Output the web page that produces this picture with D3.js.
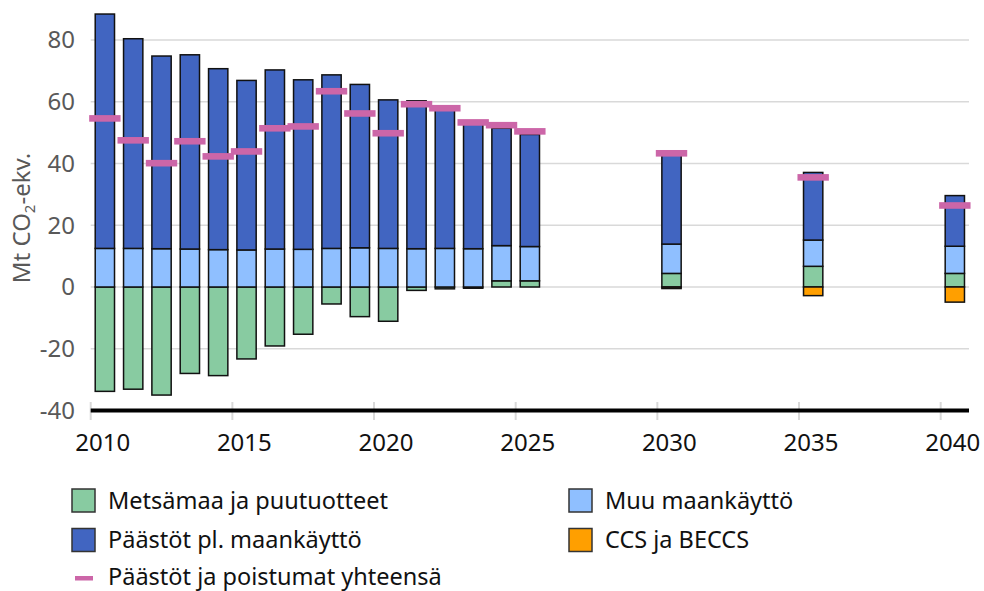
<!DOCTYPE html>
<html>
<head>
<meta charset="utf-8">
<script src="https://cdn.jsdelivr.net/npm/d3@7"></script>
<style>
    body { margin: 0; background: #fff; }
    svg { font-family: 'Noto Sans', 'Open Sans', sans-serif; }
    .grid line { stroke: #d9d9d9; stroke-width: 1.5; }
    .ylabel { fill: #595959; font-size: 24px; }
    .xlabel { fill: #111; font-size: 24px; }
    .legend text { fill: #111; font-size: 23.5px; }
</style>
</head>
<body>
<svg id="chart" width="984" height="591"></svg>
<script>
// data
const years = [2010, 2011, 2012, 2013, 2014, 2015, 2016, 2017, 2018, 2019, 2020,
    2021, 2022, 2023, 2024, 2025, 2030, 2035, 2040];
const metsamaa = [-33.8, -33.1, -35.0, -28.0, -28.7, -23.3, -19.1, -15.3, -5.5, -9.6, -11.1,
    -1.1, -0.6, -0.4, 2.0, 2.0, 4.4, 6.7, 4.4];
const muuMaankaytto = [12.5, 12.5, 12.4, 12.3, 12.1, 12.0, 12.3, 12.2, 12.5, 12.7, 12.5,
    12.4, 12.5, 12.4, 11.4, 11.1, 9.5, 8.5, 8.8];
const paastot = [75.9, 67.9, 62.4, 62.9, 58.6, 54.9, 58.0, 54.9, 56.2, 52.9, 48.1,
    47.9, 45.0, 40.4, 38.0, 36.3, 28.9, 21.9, 16.4];
const ccs = [0, 0, 0, 0, 0, 0, 0, 0, 0, 0, 0,
    0, 0, 0, 0, 0, -0.5, -2.8, -4.9];
const yhteensa = [54.6, 47.5, 40.1, 47.2, 42.3, 43.9, 51.4, 52.0, 63.4, 56.2, 49.8,
    59.2, 57.9, 53.3, 52.4, 50.4, 43.3, 35.5, 26.4];

const yTicks = [-40, -20, 0, 20, 40, 60, 80];
const xTicks = [2010, 2015, 2020, 2025, 2030, 2035, 2040];

const seriesKeys = ['metsamaa', 'muu', 'paastot', 'ccs'];
const seriesColors = ['#88cba1', '#8fbfff', '#4165c1', '#ff9f00'];
const legendItems = [
    {label: 'Metsämaa ja puutuotteet', color: '#88cba1', col: 0, row: 0},
    {label: 'Muu maankäyttö', color: '#8fbfff', col: 1, row: 0},
    {label: 'Päästöt pl. maankäyttö', color: '#4165c1', col: 0, row: 1},
    {label: 'CCS ja BECCS', color: '#ff9f00', col: 1, row: 1},
    {label: 'Päästöt ja poistumat yhteensä', color: '#cc66a8', col: 0, row: 2, line: true}
];

let table = years.map((yr, i) => ({
    year: yr,
    metsamaa: metsamaa[i],
    muu: muuMaankaytto[i],
    paastot: paastot[i],
    ccs: ccs[i],
    total: yhteensa[i]
}));

let svg = d3.select('#chart');

let x = d3.scaleLinear().domain([2010, 2041]).range([90.7, 969]);
let y = d3.scaleLinear().domain([-40, 90]).range([410.5, 9.1]);
let barWidth = 19.3;

// grid
svg.append('g')
    .classed('grid', true)
    .selectAll('line')
    .data(yTicks.filter(d => d > -40))
    .join('line')
    .attr('x1', x(2010))
    .attr('x2', x(2041))
    .attr('y1', d => y(d))
    .attr('y2', d => y(d));

// y labels
svg.append('g')
    .selectAll('text')
    .data(yTicks)
    .join('text')
    .classed('ylabel', true)
    .attr('x', 75)
    .attr('y', d => y(d))
    .attr('dy', '0.35em')
    .attr('text-anchor', 'end')
    .text(d => d);

// y title
let title = svg.append('text')
    .classed('ylabel', true)
    .attr('transform', 'translate(30,218) rotate(-90)')
    .attr('text-anchor', 'middle');
title.append('tspan').text('Mt CO');
title.append('tspan').attr('font-size', '15px').attr('dy', '5').text('2');
title.append('tspan').attr('dy', '-5').text('-ekv.');

// stacked bars
let stack = d3.stack()
    .keys(seriesKeys)
    .offset(d3.stackOffsetDiverging);

let stacked = stack(table);

svg.append('g')
    .selectAll('g')
    .data(stacked)
    .join('g')
    .attr('fill', (d, i) => seriesColors[i])
    .selectAll('rect')
    .data(d => d.filter(p => p[1] - p[0] !== 0))
    .join('rect')
    .attr('x', d => x(d.data.year + 0.5) - barWidth / 2)
    .attr('width', barWidth)
    .attr('y', d => y(Math.max(d[0], d[1])))
    .attr('height', d => Math.abs(y(d[0]) - y(d[1])))
    .attr('stroke', '#111')
    .attr('stroke-width', 1.5);

// total markers
svg.append('g')
    .selectAll('rect')
    .data(table)
    .join('rect')
    .attr('x', d => x(d.year + 0.5) - 15.7)
    .attr('width', 31.4)
    .attr('y', d => y(d.total) - 3.3)
    .attr('height', 6.6)
    .attr('fill', '#cc66a8');

// x axis
svg.append('g')
    .selectAll('line')
    .data(xTicks)
    .join('line')
    .attr('x1', d => x(d))
    .attr('x2', d => x(d))
    .attr('y1', 402)
    .attr('y2', 420)
    .attr('stroke', '#d9d9d9')
    .attr('stroke-width', 2);

svg.append('line')
    .attr('x1', x(2010))
    .attr('x2', x(2041))
    .attr('y1', y(-40))
    .attr('y2', y(-40))
    .attr('stroke', '#000')
    .attr('stroke-width', 4);

svg.append('g')
    .selectAll('text')
    .data(xTicks)
    .join('text')
    .classed('xlabel', true)
    .attr('x', d => x(d) + 12)
    .attr('y', 451)
    .attr('text-anchor', 'middle')
    .text(d => d);

// legend
let legend = svg.append('g')
    .classed('legend', true)
    .selectAll('g')
    .data(legendItems)
    .join('g')
    .attr('transform', d => 'translate(' + (d.col ? 569 : 72) + ',' + (489 + d.row * 39.5) + ')');

legend.filter(d => !d.line)
    .append('rect')
    .attr('width', 23)
    .attr('height', 23)
    .attr('fill', d => d.color)
    .attr('stroke', '#333')
    .attr('stroke-width', 1.5);

legend.filter(d => d.line)
    .append('rect')
    .attr('x', 3)
    .attr('y', 8)
    .attr('width', 18)
    .attr('height', 4.5)
    .attr('fill', d => d.color);

legend.append('text')
    .attr('x', 36)
    .attr('y', d => d.line ? 17 : 19.5)
    .text(d => d.label);
</script>
</body>
</html>
